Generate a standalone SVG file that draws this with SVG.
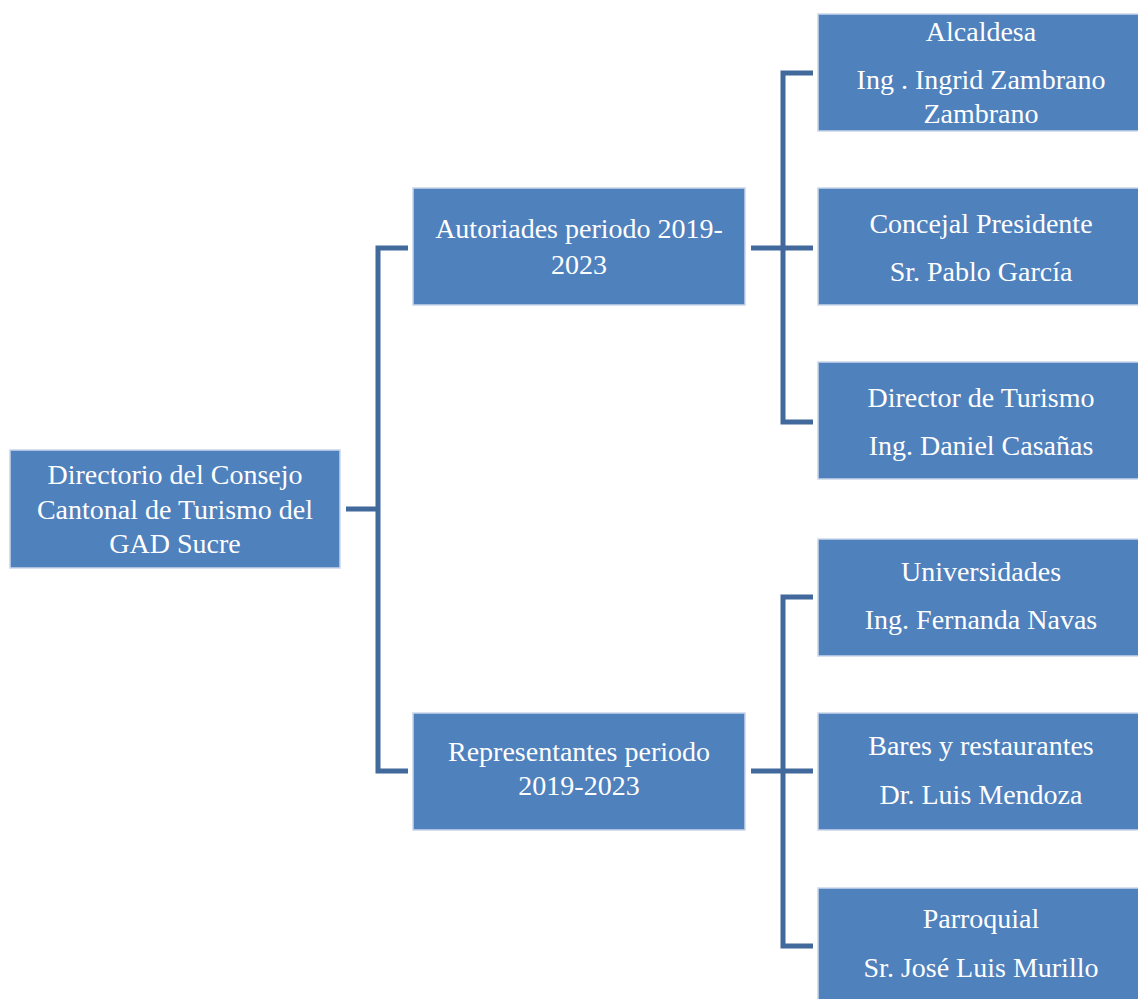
<svg xmlns="http://www.w3.org/2000/svg" width="1138" height="999" viewBox="0 0 1138 999">
<style>
.box{fill:#4F81BD;stroke:#C9D6EA;stroke-width:1.5}
.t{font-family:"Liberation Serif","DejaVu Serif",serif;font-size:28px;fill:#FFFFFF;text-anchor:middle}
.c{fill:none;stroke:#41699B;stroke-width:5;stroke-linejoin:miter}
</style>
<rect width="1138" height="999" fill="#FFFFFF"/>
<g id="connectors">
<path class="c" d="M346,509 H378 M408,248 H378 V771 H408"/>
<path class="c" d="M751,248 H813 M813,73 H783 V422 H813"/>
<path class="c" d="M751,771 H813 M813,597 H783 V946 H813"/>
</g>
<g id="root">
<rect class="box" x="10" y="450" width="330" height="118"/>
<text class="t" x="175" y="484">Directorio del Consejo</text>
<text class="t" x="175" y="519">Cantonal de Turismo del</text>
<text class="t" x="175" y="553">GAD Sucre</text>
</g>
<g id="autoridades">
<rect class="box" x="413" y="188" width="332" height="117"/>
<text class="t" x="579" y="238">Autoriades periodo 2019-</text>
<text class="t" x="579" y="274">2023</text>
</g>
<g id="representantes">
<rect class="box" x="413" y="713" width="332" height="117"/>
<text class="t" x="579" y="761">Representantes periodo</text>
<text class="t" x="579" y="795">2019-2023</text>
</g>
<g id="alcaldesa">
<rect class="box" x="818" y="14" width="330" height="117"/>
<text class="t" x="981" y="41">Alcaldesa</text>
<text class="t" x="981" y="89">Ing . Ingrid Zambrano</text>
<text class="t" x="981" y="123">Zambrano</text>
</g>
<g id="concejal">
<rect class="box" x="818" y="188" width="330" height="117"/>
<text class="t" x="981" y="233">Concejal Presidente</text>
<text class="t" x="981" y="281">Sr. Pablo García</text>
</g>
<g id="director">
<rect class="box" x="818" y="362" width="330" height="117"/>
<text class="t" x="981" y="407">Director de Turismo</text>
<text class="t" x="981" y="455">Ing. Daniel Casañas</text>
</g>
<g id="universidades">
<rect class="box" x="818" y="539" width="330" height="117"/>
<text class="t" x="981" y="581">Universidades</text>
<text class="t" x="981" y="629">Ing. Fernanda Navas</text>
</g>
<g id="bares">
<rect class="box" x="818" y="713" width="330" height="117"/>
<text class="t" x="981" y="755">Bares y restaurantes</text>
<text class="t" x="981" y="804">Dr. Luis Mendoza</text>
</g>
<g id="parroquial">
<rect class="box" x="818" y="888" width="330" height="117"/>
<text class="t" x="981" y="928">Parroquial</text>
<text class="t" x="981" y="977">Sr. José Luis Murillo</text>
</g>
</svg>
